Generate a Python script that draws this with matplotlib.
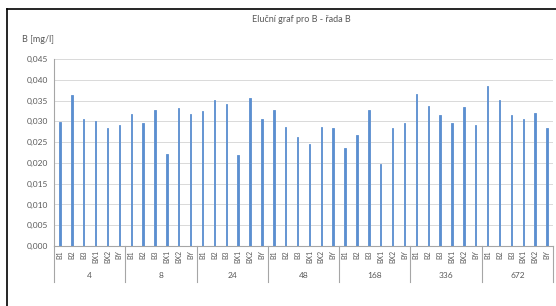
import numpy as np
import matplotlib
matplotlib.use("Agg")
import matplotlib.pyplot as plt
from matplotlib.ticker import FuncFormatter, MultipleLocator

plt.rcParams["font.family"] = ["Lato", "DejaVu Sans"]

# data
groups = ["4", "8", "24", "48", "168", "336", "672"]
samples = ["B1", "B2", "B3", "BX1", "BX2", "BY"]
values = [
    [0.0298, 0.0363, 0.0305, 0.0302, 0.0285, 0.0292],  # 4
    [0.0318, 0.0295, 0.0327, 0.0221, 0.0333, 0.0318],  # 8
    [0.0326, 0.0351, 0.0342, 0.0218, 0.0357, 0.0306],  # 24
    [0.0327, 0.0287, 0.0262, 0.0246, 0.0287, 0.0285],  # 48
    [0.0236, 0.0268, 0.0327, 0.0197, 0.0284, 0.0296],  # 168
    [0.0366, 0.0338, 0.0315, 0.0296, 0.0334, 0.0292],  # 336
    [0.0384, 0.0352, 0.0315, 0.0305, 0.0319, 0.0284],  # 672
]

txt = "#595959"
grid = "#D9D9D9"

fig = plt.figure(figsize=(5.56, 3.06), dpi=100)
ax = fig.add_axes([54/556, 1-246/306, 499/556, 187/306])

flat = [v for g in values for v in g]
labels = samples * len(groups)
x = np.arange(len(flat))
ax.bar(x, flat, width=0.12, color="#5B8FD0", edgecolor="#5B8FD0", lw=0.6, zorder=3)

ax.set_xlim(-0.5, len(flat) - 0.5)
ax.set_ylim(0, 0.045)
ax.yaxis.set_major_locator(MultipleLocator(0.005))
ax.yaxis.set_major_formatter(FuncFormatter(lambda v, p: f"{v:.3f}".replace(".", ",")))
ax.grid(axis="y", color=grid, lw=0.7, zorder=0)
ax.tick_params(axis="y", length=0, labelsize=6, labelcolor=txt, pad=4)

for s in ["top", "right"]:
    ax.spines[s].set_visible(False)
ax.spines["left"].set_color("#A6A6A6")
ax.spines["bottom"].set_color("#A6A6A6")
ax.spines["left"].set_bounds(0, 0.045)

# multi-level category axis
ax.set_xticks(x)
ax.set_xticklabels(labels, rotation=90, fontsize=5, color=txt)
ax.tick_params(axis="x", length=0, pad=3)
trans = ax.get_xaxis_transform()
sep = -36/187
ax.plot([-0.5, -0.5], [0, sep], transform=trans, color="#A6A6A6", lw=0.8, clip_on=False)
for i, g in enumerate(groups):
    right = (i + 1) * len(samples) - 0.5
    ax.plot([right, right], [0, sep], transform=trans, color="#A6A6A6", lw=0.8, clip_on=False)
    ax.text(i * len(samples) + 2.5, -30/187, g, transform=trans, ha="center", va="center",
            fontsize=6, color=txt)

fig.text(301/556, 1-19/306, "Eluční graf pro B - řada B", ha="center", va="center",
         fontsize=6.5, color=txt)
fig.text(22/556, 1-40/306, "B [mg/l]", ha="left", va="center", fontsize=6.5, color=txt)

# outer frame lines
fig.add_artist(plt.Line2D([7/556, 1], [1-9/306, 1-9/306], color="black", lw=1.2))
fig.add_artist(plt.Line2D([7/556, 7/556], [0, 1-9/306], color="black", lw=1.2))

fig.savefig("out.png", dpi=100)
